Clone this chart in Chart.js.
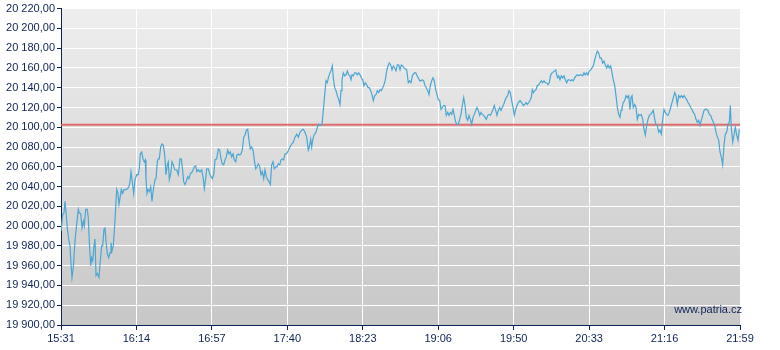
<!DOCTYPE html>
<html>
<head>
<meta charset="utf-8">
<script src="https://cdn.jsdelivr.net/npm/chart.js@4.4.1/dist/chart.umd.min.js"></script>
<style>
  html, body { margin: 0; padding: 0; background: #ffffff; }
  #wrap { width: 780px; height: 350px; position: relative; }
</style>
</head>
<body>
<div id="wrap"><canvas id="c" width="780" height="350"></canvas></div>
<script>
// ---- data ----
const timeLabels = ["15:31","16:14","16:57","17:40","18:23","19:06","19:50","20:33","21:16","21:59"];
// minutes elapsed since 15:31
const minutes = [
0,1.0,1.71,2.29,2.86,3.6,4.57,5.14,5.71,6.29,7.03,8.0,8.97,9.89,10.46,11.26,12.0,12.74,13.31,14.11,15.03,15.6,16.17,16.97,17.54,18.11,18.86,19.43,20.0,20.74,21.71,22.29,23.26,23.83,24.57,25.14,25.71,26.46,27.26,28.0,28.57,29.14,29.89,30.46,31.03,31.83,32.57,33.14,33.71,34.46,35.26,36.0,37.14,38.11,38.86,39.43,40.0,40.74,41.54,42.29,43.26,44.17,44.74,45.31,46.11,46.86,47.6,48.17,48.57,49.14,49.71,50.46,51.26,52.0,52.74,53.71,54.29,55.03,55.6,56.17,56.97,57.71,58.46,59.26,60.0,60.74,61.31,61.89,62.69,63.43,64.17,64.97,
66.11,67.03,68.0,68.74,69.31,70.11,70.86,71.6,72.4,73.14,73.89,75.03,76.17,76.97,77.71,78.46,79.43,80.4,81.31,81.89,82.69,83.26,84.17,84.97,85.71,86.46,87.26,88.0,88.97,89.89,90.69,91.43,92.17,92.97,93.71,94.46,95.26,96.0,96.74,97.54,98.29,99.03,99.83,100.57,101.31,102.11,102.86,103.6,104.4,105.14,105.89,106.69,107.43,108.17,108.97,109.71,110.46,111.26,112.0,112.74,113.54,114.29,115.03,115.83,116.57,117.31,118.11,118.86,119.6,120.4,121.14,121.89,122.69,123.43,124.17,124.97,125.71,126.46,127.26,128.0,128.74,129.54,130.29,130.86,
131.83,132.74,133.71,134.69,135.6,136.57,137.54,138.46,139.43,140.4,141.31,141.89,142.69,143.26,143.83,144.57,145.71,146.46,147.26,148.0,149.14,149.89,150.69,151.43,152.17,152.74,153.71,154.46,155.03,155.6,156.4,157.14,157.89,158.69,159.43,160.0,160.57,161.31,162.11,162.86,163.6,164.4,165.14,165.71,166.29,167.03,167.83,168.57,169.31,170.11,170.86,171.6,172.4,173.14,173.89,174.69,175.43,176.17,176.97,177.71,178.46,179.26,180.0,180.74,181.54,182.29,183.03,183.83,184.57,185.31,186.11,186.86,187.6,188.4,189.14,189.89,190.69,191.43,192.17,192.97,193.71,194.46,195.26,196.0,
196.57,197.54,198.46,199.26,200.0,200.74,201.89,202.69,203.43,204.17,204.97,205.71,206.46,207.26,208.0,208.74,209.54,210.29,211.03,211.83,212.57,213.31,214.11,214.86,215.6,216.4,217.14,217.89,218.69,219.43,220.17,220.97,221.71,222.46,223.26,224.0,224.74,225.54,226.29,227.03,227.83,228.57,229.31,230.11,230.86,231.6,232.4,233.14,233.89,234.69,235.43,236.17,236.97,237.71,238.46,239.26,240.0,240.74,241.54,242.29,243.03,243.83,244.57,245.31,246.11,246.86,247.6,248.4,249.14,249.89,250.69,251.43,252.17,252.97,253.71,254.46,255.26,256.0,256.74,257.54,258.29,259.03,259.83,260.57,261.31,262.29,
263.26,264.17,264.97,265.71,266.46,267.26,268.0,268.74,269.31,269.89,270.69,271.43,272.17,272.97,273.71,274.46,275.26,276.0,276.74,277.54,278.29,279.03,279.83,280.57,281.31,282.11,282.69,283.26,283.83,284.4,285.14,285.89,286.69,287.43,288.17,288.97,289.71,290.46,291.26,292.0,292.74,293.54,294.29,295.03,295.83,296.57,297.31,298.11,298.86,299.6,300.4,301.14,301.89,302.69,303.43,304.17,304.97,305.71,306.46,307.26,308.0,308.74,309.54,310.29,311.03,311.83,312.57,313.31,314.11,314.86,315.6,316.4,317.14,317.89,318.69,319.43,320.0,320.57,321.31,322.11,322.86,323.6,324.4,325.14,
325.71,326.29,327.03,327.83,328.57,329.31,330.11,330.86,331.6,332.4,333.14,333.89,334.69,335.43,336.17,336.97,337.71,338.46,339.26,340.0,340.74,341.54,342.29,343.03,343.83,344.57,345.31,346.11,346.86,347.6,348.4,349.14,349.89,350.69,351.43,352.17,352.97,353.71,354.46,355.26,356.0,356.74,357.54,358.29,359.03,359.83,360.57,361.31,362.11,362.86,363.6,364.4,365.14,365.89,366.69,367.43,368.17,368.97,369.71,370.46,371.26,372.0,372.74,373.54,374.29,375.03,375.83,376.57,377.31,378.11,378.86,379.6,380.4,381.14,381.89,382.46,383.03,383.83,384.57,385.31,386.11,386.86,387.6
];
const prices = [
19995,20012,20013,20025,20015,19998,19985,19980,19962,19948,19958,19985,20002,20017,20013,20013,19998,20005,20000,20017,20017,20008,19985,19960,19968,19965,19980,19987,19950,19952,19948,19962,19980,19980,19997,19998,19985,19972,19968,19973,19983,19975,19980,19995,20012,20037,20033,20022,20028,20037,20033,20037,20037,20038,20040,20045,20055,20045,20033,20047,20052,20052,20058,20073,20075,20068,20065,20067,20048,20033,20037,20035,20040,20025,20037,20047,20048,20065,20068,20068,20080,20083,20082,20072,20052,20062,20065,20047,20053,20065,20062,20057,
20057,20052,20068,20068,20060,20045,20042,20045,20050,20048,20053,20055,20060,20061,20055,20057,20055,20057,20048,20038,20048,20058,20058,20053,20050,20048,20052,20067,20068,20078,20077,20068,20063,20062,20067,20070,20077,20073,20075,20070,20073,20067,20065,20072,20073,20072,20073,20077,20090,20092,20097,20098,20087,20078,20080,20077,20067,20058,20060,20063,20060,20052,20055,20048,20057,20050,20047,20045,20042,20062,20065,20058,20060,20060,20063,20062,20067,20068,20067,20073,20073,20075,20078,20080,
20083,20085,20090,20093,20090,20095,20097,20098,20095,20090,20077,20080,20088,20080,20087,20092,20095,20100,20103,20102,20103,20117,20133,20147,20145,20150,20155,20158,20162,20150,20140,20137,20132,20128,20123,20137,20148,20155,20152,20153,20157,20153,20152,20148,20153,20152,20155,20155,20153,20155,20153,20150,20148,20142,20145,20143,20140,20140,20137,20133,20127,20132,20133,20137,20135,20138,20137,20140,20143,20148,20157,20162,20165,20163,20158,20162,20160,20157,20163,20163,20158,20163,20162,20160,
20160,20158,20145,20147,20145,20152,20155,20155,20152,20150,20147,20147,20148,20147,20142,20140,20137,20133,20142,20147,20150,20147,20138,20133,20128,20127,20118,20120,20122,20122,20112,20115,20112,20115,20113,20118,20112,20105,20103,20103,20108,20113,20122,20130,20122,20110,20107,20112,20108,20103,20110,20113,20117,20120,20117,20112,20115,20113,20112,20110,20108,20112,20113,20112,20115,20118,20122,20117,20112,20117,20120,20117,20120,20123,20127,20130,20132,20137,20135,20127,20120,20112,20118,20122,20125,20127,
20125,20122,20123,20125,20123,20125,20127,20130,20138,20135,20137,20138,20142,20143,20145,20147,20145,20147,20145,20145,20143,20145,20153,20155,20156,20157,20158,20153,20150,20152,20148,20152,20150,20152,20148,20145,20148,20148,20147,20148,20147,20150,20152,20153,20152,20153,20153,20152,20155,20153,20155,20153,20157,20158,20160,20162,20168,20173,20177,20175,20170,20170,20165,20167,20163,20160,20163,20160,20162,20155,20148,20142,20132,20120,20113,20110,20117,20120,20125,20127,20132,20130,20132,20118,
20130,20132,20120,20123,20120,20108,20113,20112,20113,20108,20098,20092,20102,20108,20112,20113,20115,20117,20108,20103,20102,20095,20097,20093,20108,20118,20115,20113,20112,20115,20120,20125,20130,20135,20132,20123,20132,20130,20132,20130,20132,20130,20128,20125,20123,20120,20118,20115,20113,20108,20105,20107,20102,20107,20112,20117,20118,20118,20117,20113,20112,20108,20105,20102,20095,20090,20087,20075,20070,20062,20082,20093,20095,20103,20105,20122,20100,20085,20092,20100,20092,20087,20098
];
const referenceLevel = 20102.5;   // previous close (red line)
const yMin = 19900, yMax = 20220, yStep = 20;
const watermark = "www.patria.cz";

// ---- helpers ----
function toMin(s) { const p = s.split(":"); return (+p[0]) * 60 + (+p[1]); }
const spanMin = toMin(timeLabels[timeLabels.length - 1]) - toMin(timeLabels[0]);
const tickStep = spanMin / (timeLabels.length - 1);

function fmtNum(v) {
  const s = v.toFixed(2);
  const parts = s.split(".");
  const intPart = parts[0].replace(/\B(?=(\d{3})+(?!\d))/g, " ");
  return intPart + "," + parts[1];
}

const NAVY = "#0d2256";
const FONT = { family: "'Liberation Sans', Arial, sans-serif", size: 11 };

const points = minutes.map((m, i) => ({ x: m, y: prices[i] }));

const bgPlugin = {
  id: "bg",
  beforeDraw(chart) {
    const { ctx, chartArea: a } = chart;
    const g = ctx.createLinearGradient(0, a.top, 0, a.bottom);
    g.addColorStop(0, "#eeeeee");
    g.addColorStop(1, "#c7c7c7");
    ctx.save();
    ctx.fillStyle = g;
    ctx.fillRect(a.left, a.top, a.right - a.left, a.bottom - a.top);
    ctx.restore();
  },
  afterDatasetsDraw(chart) {
    const { ctx, chartArea: a } = chart;
    ctx.save();
    ctx.font = "11px 'Liberation Sans', Arial, sans-serif";
    ctx.fillStyle = NAVY;
    ctx.textAlign = "right";
    ctx.textBaseline = "middle";
    ctx.fillText(watermark, a.right + 2, a.bottom - 15);
    ctx.restore();
  }
};

new Chart(document.getElementById("c"), {
  type: "line",
  data: {
    datasets: [
      {
        data: points,
        borderColor: "#4aa6d3",
        borderWidth: 1.2,
        pointRadius: 0,
        tension: 0,
        order: 1
      },
      {
        data: [{ x: 0, y: referenceLevel }, { x: spanMin, y: referenceLevel }],
        borderColor: "rgba(222,88,88,0.85)",
        borderWidth: 2,
        pointRadius: 0,
        tension: 0,
        order: 2
      }
    ]
  },
  options: {
    responsive: false,
    animation: false,
    events: [],
    layout: { padding: { left: 0, right: 40, top: 5, bottom: 0 } },
    plugins: { legend: { display: false }, tooltip: { enabled: false } },
    scales: {
      x: {
        type: "linear",
        min: 0,
        max: spanMin,
        afterBuildTicks(scale) {
          scale.ticks = timeLabels.map((l, i) => ({ value: i * tickStep }));
        },
        afterFit(scale) { scale.height = 25; },
        ticks: {
          autoSkip: false,
          maxRotation: 0,
          color: NAVY,
          font: FONT,
          padding: 2,
          callback: (v, i) => timeLabels[i]
        },
        grid: { color: "#ffffff", lineWidth: 1, tickColor: NAVY, tickLength: 5 },
        border: { color: NAVY, width: 1 }
      },
      y: {
        min: yMin,
        max: yMax,
        afterFit(scale) { scale.width = 61; },
        ticks: {
          stepSize: yStep,
          color: NAVY,
          font: FONT,
          padding: 2,
          callback: (v) => fmtNum(v)
        },
        grid: { color: "#ffffff", lineWidth: 1, tickColor: NAVY, tickLength: 4 },
        border: { color: NAVY, width: 1 }
      }
    }
  },
  plugins: [bgPlugin]
});
</script>
</body>
</html>
